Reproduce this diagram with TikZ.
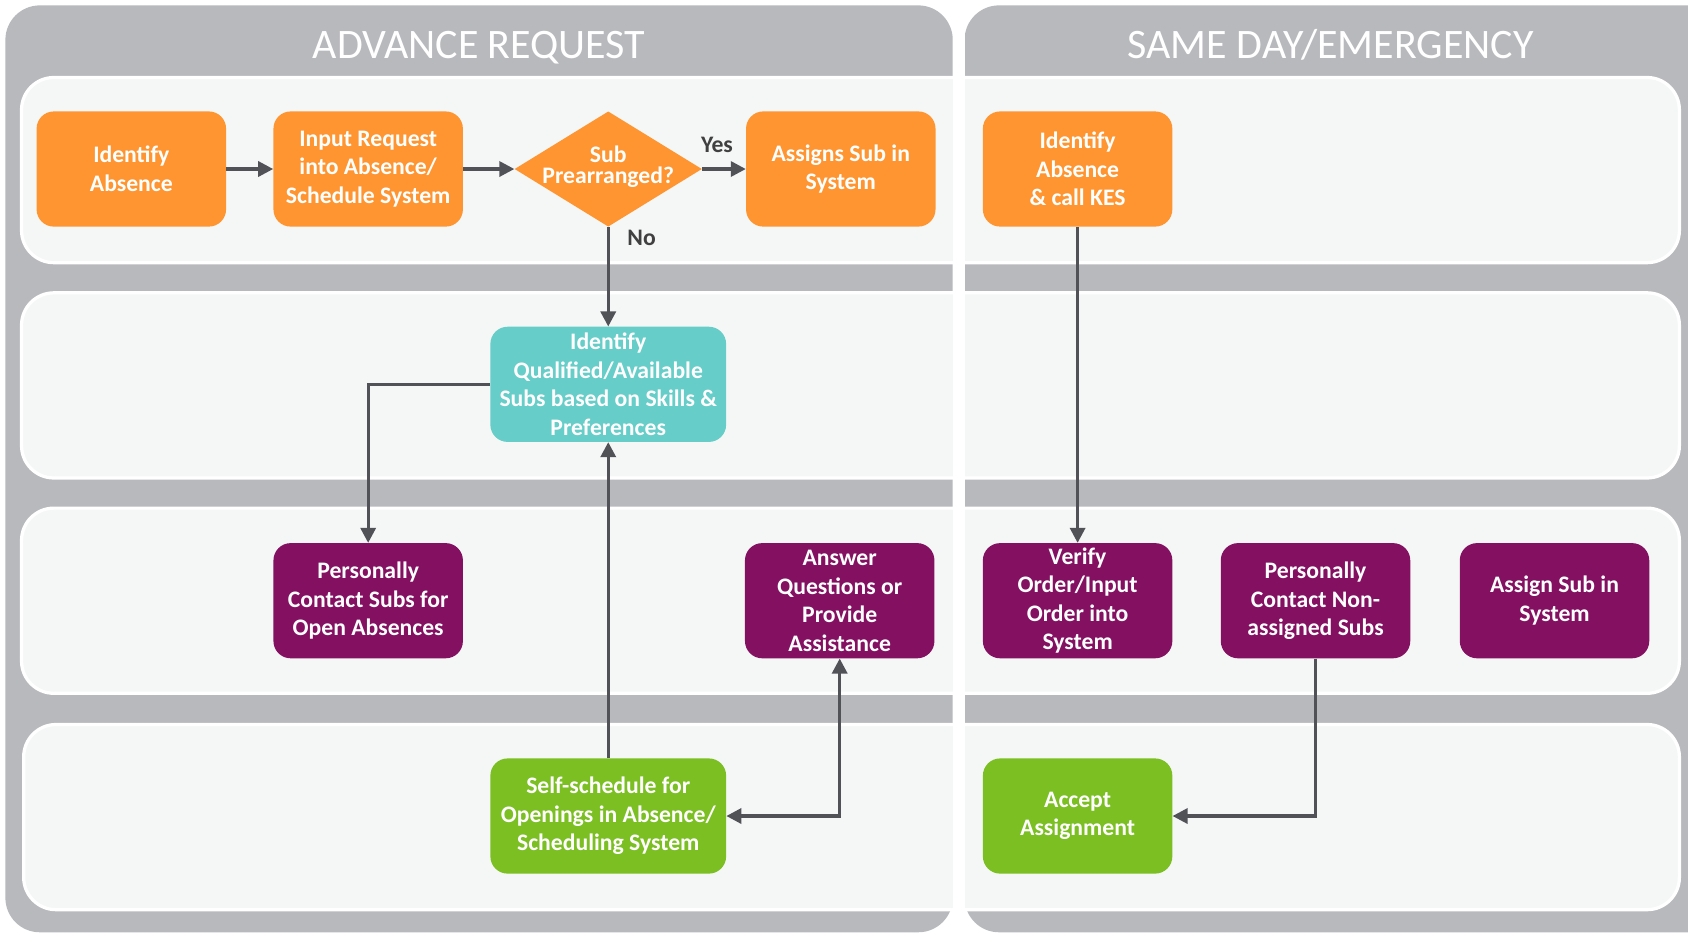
\documentclass[tikz,border=0pt]{standalone}
\usepackage{fontspec}
\setmainfont{Carlito}
\usetikzlibrary{shapes.geometric,arrows.meta}
\definecolor{panel}{HTML}{B8B9BC}
\definecolor{lanefill}{HTML}{F5F7F6}
\definecolor{org}{HTML}{FF9530}
\definecolor{cyn}{HTML}{66CDC8}
\definecolor{pur}{HTML}{841062}
\definecolor{grn}{HTML}{7BBF22}
\definecolor{arr}{HTML}{505257}
\definecolor{lbl}{HTML}{404040}
\begin{document}
\begin{tikzpicture}[x=1pt,y=-1pt,
  box/.style={rounded corners=16pt, minimum width=176pt, minimum height=107pt, text=white,
    font=\fontsize{22}{26.5}\selectfont\bfseries, align=center, inner sep=0pt},
  obox/.style={box, fill=org},
  cbox/.style={box, fill=cyn},
  pbox/.style={box, fill=pur},
  gbox/.style={box, fill=grn},
  lanebox/.style={rounded corners=30pt, fill=lanefill, draw=white, line width=3pt},
  panelbox/.style={rounded corners=32pt, fill=panel},
  conn/.style={draw=arr, line width=3pt, -{Triangle[length=14pt,width=14pt]}},
  lab/.style={text=lbl, font=\fontsize{22}{24}\selectfont\bfseries},
  ttl/.style={text=white, font=\fontsize{39}{44}\selectfont}]
\useasboundingbox (0,0) rectangle (1568,869);
\clip (0,0) rectangle (1568,869);
\fill[white] (0,0) rectangle (1568,869);
% panels
\path[panelbox] (5,5) rectangle (885,866);
\path[panelbox] (896,5) rectangle (1620,866);
% lanes
\path[lanebox] (20,72) rectangle (1560,244);
\path[lanebox] (20,272) rectangle (1560,444);
\path[lanebox] (20,472) rectangle (1560,644);
\path[lanebox] (22,673) rectangle (1560,845);
% gap between panels
\fill[white] (885,0) rectangle (896,869);
% titles
\node[ttl] (t1) at (445,44) {ADVANCE REQUEST};
\node[ttl] (t2) at (1236,42) {SAME DAY/EMERGENCY};
% nodes
\node[obox] (ia) at (122,157) {Identify\\Absence};
\node[obox] (ir) at (342,157) {Input Request\\into Absence/\\Schedule System};
\node[diamond, fill=org, minimum width=174pt, minimum height=107pt, inner sep=0pt] (d) at (565,157) {};
\node[text=white, font=\fontsize{22}{20}\selectfont\bfseries, align=center] (dt) at (565,155) {Sub\\Prearranged?};
\node[obox] (as) at (781,157) {Assigns Sub in\\System};
\node[obox] (kes) at (1001,157) {Identify\\Absence\\\& call KES};
\node[cbox, minimum width=219pt] (iq) at (565,357) {Identify\\Qualified/Available\\Subs based on Skills \&\\Preferences};
\node[pbox] (pc) at (342,558) {Personally\\Contact Subs for\\Open Absences};
\node[pbox] (aq) at (780,558) {Answer\\Questions or\\Provide\\Assistance};
\node[pbox] (vo) at (1001,558) {Verify\\Order/Input\\Order into\\System};
\node[pbox] (na) at (1222,558) {Personally\\Contact Non-\\assigned Subs};
\node[pbox] (asn) at (1444,558) {Assign Sub in\\System};
\node[gbox, minimum width=219pt] (ss) at (565,758) {Self-schedule for\\Openings in Absence/\\Scheduling System};
\node[gbox] (acc) at (1001,758) {Accept\\Assignment};
% labels
\node[lab] (yes) at (666,135) {Yes};
\node[lab] (no) at (596,221) {No};
% connectors
\draw[conn] (ia.east) -- (ir.west);
\draw[conn] (ir.east) -- (d.west);
\draw[conn] (d.east) -- (as.west);
\draw[conn] (d.south) -- (iq.north);
\draw[conn] (iq.west) -| (pc.north);
\draw[conn] (ss.north) -- (iq.south);
\draw[conn, {Triangle[length=14pt,width=14pt]}-{Triangle[length=14pt,width=14pt]}] (aq.south) |- (ss.east);
\draw[conn] (kes.south) -- (vo.north);
\draw[conn] (na.south) |- (acc.east);
\end{tikzpicture}
\end{document}
